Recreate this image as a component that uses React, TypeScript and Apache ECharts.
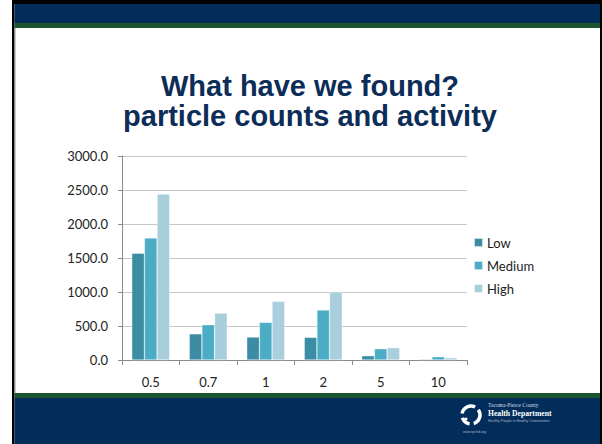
import React, { useEffect, useRef } from "react";
import * as echarts from "echarts";

const categories = ["0.5", "0.7", "1", "2", "5", "10"];
const seriesNames = ["Low", "Medium", "High"];
const lowValues = [1570, 385, 338, 333, 63, 12];
const mediumValues = [1795, 518, 553, 735, 166, 48];
const highValues = [2440, 690, 862, 1000, 181, 33];
const yMin = 0;
const yMax = 3000;
const yStep = 500;
const titleLines = ["What have we found?", "particle counts and activity"];

const NAVY = "#022d5a";
const GREEN = "#1b5530";

export default function App() {
  const ref = useRef<HTMLDivElement>(null);
  useEffect(() => {
    if (!ref.current) return;
    const chart = echarts.init(ref.current, null, { renderer: "svg" });
    const colors = ["#3c8da4", "#4bacc6", "#a9cfdd"];
    const values = [lowValues, mediumValues, highValues];
    chart.setOption({
      animation: false,
      backgroundColor: "#ffffff",
      textStyle: { fontFamily: "Lato" },
      graphic: [
        { type: "rect", z: -10, shape: { x: 12, y: 0, width: 590, height: 444 }, style: { fill: "#000000" } },
        { type: "rect", z: -9, shape: { x: 14.5, y: 4, width: 585.5, height: 440 }, style: { fill: "#ffffff" } },
        { type: "rect", z: -8, shape: { x: 14.5, y: 4, width: 585.5, height: 19 }, style: { fill: NAVY } },
        { type: "rect", z: -8, shape: { x: 14.5, y: 23, width: 585.5, height: 5 }, style: { fill: GREEN } },
        { type: "rect", z: -8, shape: { x: 14.5, y: 28, width: 1, height: 365 }, style: { fill: "#9a9a9a" } },
        { type: "rect", z: -8, shape: { x: 14.5, y: 393, width: 585.5, height: 5 }, style: { fill: GREEN } },
        { type: "rect", z: -8, shape: { x: 14.5, y: 398, width: 585.5, height: 46 }, style: { fill: NAVY } },
        {
          type: "text",
          x: 310,
          y: 86,
          style: { text: titleLines[0], fill: "#0c2d57", font: "bold 29px 'Liberation Sans', Arial, sans-serif", align: "center", verticalAlign: "middle" },
        },
        {
          type: "text",
          x: 310,
          y: 116,
          style: { text: titleLines[1], fill: "#0c2d57", font: "bold 29px 'Liberation Sans', Arial, sans-serif", align: "center", verticalAlign: "middle" },
        },
        // logo icon
        { type: "arc", shape: { cx: 471, cy: 415, r: 9, startAngle: -Math.PI * 0.95, endAngle: -Math.PI * 0.35 }, style: { stroke: "#ffffff", lineWidth: 3.5, fill: "none" } },
        { type: "arc", shape: { cx: 471, cy: 415, r: 9, startAngle: -Math.PI * 0.2, endAngle: Math.PI * 0.4 }, style: { stroke: "#ffffff", lineWidth: 3.5, fill: "none" } },
        { type: "arc", shape: { cx: 471, cy: 415, r: 9, startAngle: Math.PI * 0.55, endAngle: Math.PI * 0.9 }, style: { stroke: "#ffffff", lineWidth: 3.5, fill: "none" } },
        { type: "circle", shape: { cx: 466, cy: 419, r: 1.5 }, style: { fill: "#ffffff" } },
        {
          type: "text",
          x: 488,
          y: 405,
          style: { text: "Tacoma-Pierce County", fill: "#d8dde6", font: "5.5px 'Liberation Serif', serif", align: "left", verticalAlign: "middle" },
        },
        {
          type: "text",
          x: 488,
          y: 413.5,
          scaleX: 0.85,
          style: { text: "Health Department", fill: "#ffffff", font: "bold 9px 'Liberation Serif', serif", align: "left", verticalAlign: "middle" },
        },
        {
          type: "text",
          x: 488,
          y: 421,
          style: { text: "Healthy People in Healthy Communities", fill: "#aab4c4", font: "3.5px 'Liberation Sans', sans-serif", align: "left", verticalAlign: "middle" },
        },
        {
          type: "text",
          x: 463,
          y: 432,
          style: { text: "www.tpchd.org", fill: "#aab4c4", font: "3.5px 'Liberation Sans', sans-serif", align: "left", verticalAlign: "middle" },
        },
      ],
      legend: {
        orient: "vertical",
        left: 468,
        top: 231,
        icon: "rect",
        itemWidth: 9,
        itemHeight: 9,
        itemGap: 10,
        data: seriesNames,
        textStyle: { fontFamily: "Lato", fontSize: 13, color: "#222222", lineHeight: 13, padding: [0, 0, 0, -1] },
      },
      grid: { left: 122, right: 135, top: 156, bottom: 84, containLabel: false },
      xAxis: {
        type: "category",
        data: categories,
        axisLine: { lineStyle: { color: "#8a8a8a", width: 1 } },
        axisTick: { show: true, length: 5, lineStyle: { color: "#8a8a8a" } },
        axisLabel: { fontFamily: "Lato", fontSize: 13, color: "#222222", margin: 15 },
      },
      yAxis: {
        type: "value",
        min: yMin,
        max: yMax,
        interval: yStep,
        axisLine: { show: true, lineStyle: { color: "#8a8a8a", width: 1 } },
        axisTick: { show: true, length: 4, lineStyle: { color: "#8a8a8a" } },
        splitLine: { lineStyle: { color: "#c6c6c6", width: 1 } },
        axisLabel: { fontFamily: "Lato", fontSize: 13, color: "#222222", margin: 14, formatter: (v: number) => v.toFixed(1) },
      },
      series: seriesNames.map((name, i) => ({
        name,
        type: "bar",
        data: values[i],
        barGap: "0%",
        barCategoryGap: "34%",
        itemStyle: { color: colors[i], borderColor: "rgba(255,255,255,0.7)", borderWidth: 0.5 },
      })),
    });
    return () => chart.dispose();
  }, []);
  return <div ref={ref} style={{ position: "absolute", left: 0, top: 0, width: 602, height: 444 }} />;
}
